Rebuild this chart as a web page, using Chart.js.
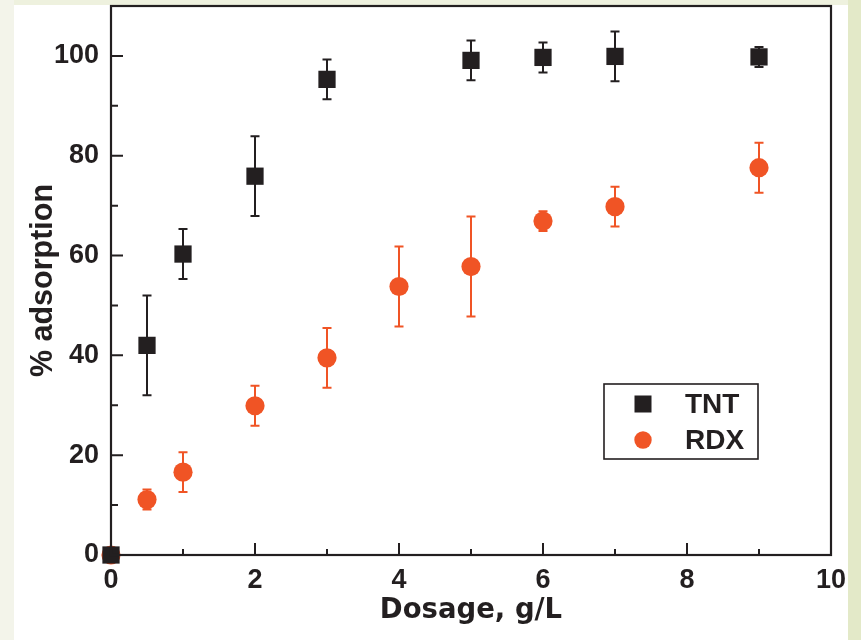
<!DOCTYPE html>
<html>
<head>
<meta charset="utf-8">
<script src="https://cdn.jsdelivr.net/npm/chart.js@4"></script>
<style>
  html, body { margin: 0; padding: 0; width: 861px; height: 640px; overflow: hidden; background: #f3f4ea; }
  #white { position: absolute; left: 14px; top: 5px; width: 834px; height: 635px; background: #ffffff; }
  #strip { position: absolute; left: 848px; top: 0; width: 13px; height: 640px; background: #e3e9c8; }
  #topstrip { position: absolute; left: 14px; top: 0; width: 834px; height: 5px; background: #eef1de; }
  canvas { position: absolute; left: 0; top: 0; }
</style>
</head>
<body>
<div id="white"></div><div id="strip"></div><div id="topstrip"></div>
<canvas id="c" width="861" height="640"></canvas>
<script>
// ---- data ----
const tntDosage = [0, 0.5, 1, 2, 3, 5, 6, 7, 9];
const tntAdsorption = [0, 42, 60.3, 75.9, 95.3, 99.1, 99.7, 99.9, 99.8];
const tntError = [0, 10, 5, 8, 4, 4, 3, 5, 2];

const rdxDosage = [0, 0.5, 1, 2, 3, 4, 5, 6, 7, 9];
const rdxAdsorption = [0, 11.1, 16.6, 29.9, 39.5, 53.8, 57.8, 66.9, 69.8, 77.6];
const rdxError = [0, 2, 4, 4, 6, 8, 10, 2, 4, 5];

const xTickValues = [0, 2, 4, 6, 8, 10];
const xMinorTicks = [1, 3, 5, 7, 9];
const yTickValues = [0, 20, 40, 60, 80, 100];
const yMinorTicks = [10, 30, 50, 70, 90];

const INK = '#231f20';
const ORANGE = '#f05425';

function pts(xs, ys) { return xs.map((x, i) => ({ x: x, y: ys[i] })); }

const errorBarsPlugin = {
  id: 'errorBars',
  beforeDatasetsDraw(chart) {
    const ctx = chart.ctx, xs = chart.scales.x, ys = chart.scales.y;
    chart.data.datasets.forEach(ds => {
      const errs = ds.errorValues || [];
      ctx.save();
      ctx.strokeStyle = ds.backgroundColor;
      ctx.lineWidth = 2;
      ds.data.forEach((p, i) => {
        const e = errs[i];
        if (!e) return;
        const px = xs.getPixelForValue(p.x);
        const top = ys.getPixelForValue(p.y + e);
        const bot = ys.getPixelForValue(p.y - e);
        ctx.beginPath();
        ctx.moveTo(px, top); ctx.lineTo(px, bot);
        ctx.moveTo(px - 4.5, top); ctx.lineTo(px + 4.5, top);
        ctx.moveTo(px - 4.5, bot); ctx.lineTo(px + 4.5, bot);
        ctx.stroke();
      });
      ctx.restore();
    });
  }
};

const frameTicksPlugin = {
  id: 'frameTicks',
  afterDatasetsDraw(chart) {
    const ctx = chart.ctx, a = chart.chartArea, xs = chart.scales.x, ys = chart.scales.y;
    ctx.save();
    ctx.strokeStyle = INK;
    ctx.lineWidth = 2.2;
    ctx.strokeRect(a.left, a.top, a.right - a.left, a.bottom - a.top);
    ctx.lineWidth = 2;
    ctx.beginPath();
    xTickValues.forEach(v => { const p = xs.getPixelForValue(v); ctx.moveTo(p, a.bottom); ctx.lineTo(p, a.bottom - 12); });
    xMinorTicks.forEach(v => { const p = xs.getPixelForValue(v); ctx.moveTo(p, a.bottom); ctx.lineTo(p, a.bottom - 6); });
    yTickValues.forEach(v => { const p = ys.getPixelForValue(v); ctx.moveTo(a.left, p); ctx.lineTo(a.left + 12, p); });
    yMinorTicks.forEach(v => { const p = ys.getPixelForValue(v); ctx.moveTo(a.left, p); ctx.lineTo(a.left + 7, p); });
    ctx.stroke();
    ctx.restore();
  }
};

const boxLegendPlugin = {
  id: 'boxLegend',
  afterDraw(chart) {
    const ctx = chart.ctx, a = chart.chartArea;
    const right = a.right - 73, bottom = a.bottom - 96, w = 154, h = 75;
    const left = right - w, top = bottom - h;
    ctx.save();
    ctx.fillStyle = '#ffffff';
    ctx.fillRect(left, top, w, h);
    ctx.strokeStyle = INK;
    ctx.lineWidth = 1.6;
    ctx.strokeRect(left, top, w, h);
    ctx.font = 'bold 28px "Liberation Sans", Arial, sans-serif';
    ctx.textBaseline = 'middle';
    ctx.textAlign = 'left';
    chart.data.datasets.forEach((ds, i) => {
      const cy = top + 20 + i * 36;
      const cx = left + 39;
      ctx.fillStyle = ds.backgroundColor;
      if (ds.pointStyle === 'rect') {
        ctx.fillRect(cx - 8.5, cy - 8.5, 17, 17);
      } else {
        ctx.beginPath(); ctx.arc(cx, cy, 8.7, 0, Math.PI * 2); ctx.fill();
      }
      ctx.fillStyle = INK;
      ctx.fillText(ds.label, left + 81, cy + 1);
    });
    ctx.restore();
  }
};

const tickFont = { family: '"Liberation Sans", Arial, sans-serif', weight: 'bold', size: 27 };

new Chart(document.getElementById('c'), {
  type: 'scatter',
  data: {
    datasets: [
      { label: 'TNT', data: pts(tntDosage, tntAdsorption), errorValues: tntError,
        pointStyle: 'rect', pointRadius: 12.2, borderWidth: 0,
        backgroundColor: INK, borderColor: INK, clip: false },
      { label: 'RDX', data: pts(rdxDosage, rdxAdsorption), errorValues: rdxError,
        pointStyle: 'circle', pointRadius: 9.6, borderWidth: 0,
        backgroundColor: ORANGE, borderColor: ORANGE, clip: false }
    ]
  },
  options: {
    responsive: false,
    animation: false,
    events: [],
    layout: { autoPadding: false, padding: { left: 0, right: 30, top: 6, bottom: 0 } },
    plugins: { legend: { display: false }, tooltip: { enabled: false } },
    scales: {
      x: {
        type: 'linear', min: 0, max: 10,
        afterBuildTicks: s => { s.ticks = xTickValues.map(v => ({ value: v })); },
        afterFit: s => { s.height = 85; },
        grid: { display: false, drawTicks: false },
        border: { display: false },
        ticks: { font: tickFont, color: INK, padding: 9, maxRotation: 0, autoSkip: false },
        title: { display: true, text: 'Dosage, g/L', color: INK,
                 font: { family: '"DejaVu Sans", sans-serif', weight: 'bold', size: 27.5, lineHeight: 1 },
                 padding: { top: 0, bottom: 15 } }
      },
      y: {
        type: 'linear', min: 0, max: 110,
        afterBuildTicks: s => { s.ticks = yTickValues.map(v => ({ value: v })); },
        afterFit: s => { s.width = 111; s.paddingTop = 0; s.paddingBottom = 0; },
        grid: { display: false, drawTicks: false },
        border: { display: false },
        ticks: { font: Object.assign({}, tickFont, { lineHeight: 0.05 }), color: INK, padding: 12, autoSkip: false },
        title: { display: true, text: '% adsorption', color: INK,
                 font: { family: '"Liberation Sans", Arial, sans-serif', weight: 'bold', size: 30.5, lineHeight: 1 },
                 padding: { top: 28, bottom: 0 } }
      }
    }
  },
  plugins: [errorBarsPlugin, frameTicksPlugin, boxLegendPlugin]
});
</script>
</body>
</html>
